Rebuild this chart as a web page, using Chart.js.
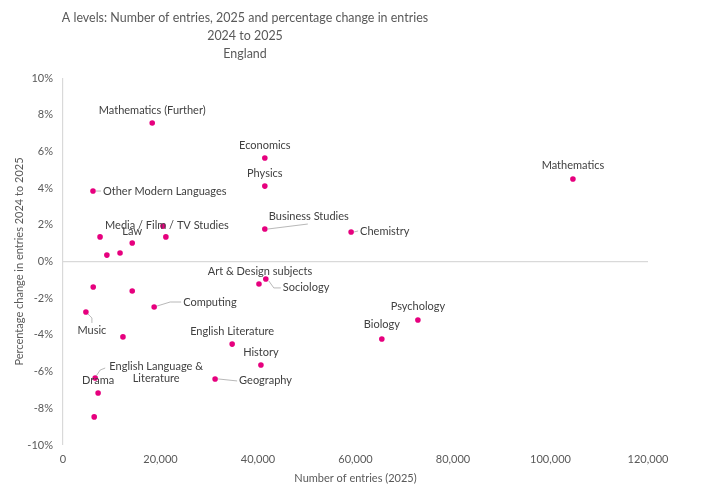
<!DOCTYPE html>
<html>
<head>
<meta charset="utf-8">
<script src="https://cdn.jsdelivr.net/npm/chart.js@4"></script>
<style>
  html, body { margin: 0; padding: 0; background: #fff; }
  #wrap { width: 713px; height: 496px; }
</style>
</head>
<body>
<div id="wrap"><canvas id="myChart" width="713" height="496"></canvas></div>
<script>
// subject names ('' = point without a label in the original)
const subjects = [
  "Mathematics (Further)", "Economics", "Physics", "Other Modern Languages", "Mathematics",
  "Business Studies", "Chemistry", "Media / Film / TV Studies", "", "",
  "Law", "", "", "Sociology", "Art & Design subjects",
  "", "", "Computing", "Music", "",
  "English Literature", "History", "English Language & Literature", "Geography", "Drama",
  "", "Psychology", "Biology"
];
// number of entries, 2025
const entries = [
  18300, 41400, 41400, 6150, 104600,
  41400, 59100, 20500, 21100, 7600,
  14200, 11700, 9000, 41600, 40200,
  6200, 14200, 18700, 4700, 12300,
  34700, 40600, 6600, 31200, 7200,
  6400, 72800, 65400
];
// percentage change in entries 2024 to 2025
const pctChange = [
  7.55, 5.64, 4.11, 3.84, 4.5,
  1.77, 1.61, 1.93, 1.34, 1.34,
  1.01, 0.46, 0.35, -0.95, -1.23,
  -1.39, -1.61, -2.48, -2.75, -4.11,
  -4.5, -5.64, -6.35, -6.4, -7.17,
  -8.47, -3.19, -4.22
];
const xTicks = [0, 20000, 40000, 60000, 80000, 100000, 120000];
const yTicks = [-10, -8, -6, -4, -2, 0, 2, 4, 6, 8, 10];
const titleLines = [
  "A levels: Number of entries, 2025 and percentage change in entries",
  "2024 to 2025",
  "England"
];

// label placement relative to each point: [dx, dy, align, leader]
const labelPlace = {
  "Mathematics (Further)": [0, -13, "center", false],
  "Economics": [0, -13, "center", false],
  "Physics": [0, -13, "center", false],
  "Other Modern Languages": [10, 0, "left", [3, 0, 8, 0]],
  "Mathematics": [0, -13, "center", false],
  "Business Studies": [44, -13, "center", [3, 0, 43, -5]],
  "Chemistry": [9, -1, "left", [3, 0, 7, -1]],
  "Media / Film / TV Studies": [4, -1, "center", false],
  "Law": [0, -12, "center", false],
  "Sociology": [17, 9, "left", [3, 2, 8, 9, 15, 9]],
  "Art & Design subjects": [1, -13, "center", false],
  "Computing": [29, -5, "left", [3, -1, 16, -5, 27, -5]],
  "Music": [6, 18, "center", [2, 2, 6, 6, 6, 11]],
  "English Literature": [0, -13, "center", false],
  "History": [0, -13, "center", false],
  "English Language & Literature": [61, -12, "center", [1, -2, 5, -8, 10, -10]],
  "Geography": [24, 2, "left", [3, 0, 22, 2]],
  "Drama": [0, -13, "center", false],
  "Psychology": [0, -14, "center", false],
  "Biology": [0, -14, "center", false]
};

const titlePlugin = {
  id: "titleLines",
  afterDraw(chart) {
    const ctx = chart.ctx;
    ctx.save();
    ctx.fillStyle = "#595959";
    ctx.font = "14px Lato";
    ctx.textAlign = "center";
    ctx.textBaseline = "middle";
    titleLines.forEach((t, i) => {
      const w = ctx.measureText(t).width * 0.89; // source font is narrower
      ctx.fillText(t, 245, 17 + i * 18, w);
    });
    ctx.restore();
  }
};

const labelPlugin = {
  id: "pointLabels",
  afterDatasetsDraw(chart) {
    const ctx = chart.ctx;
    const xs = chart.scales.x, ys = chart.scales.y;
    ctx.save();
    ctx.font = "11px Lato";
    ctx.textBaseline = "middle";
    subjects.forEach((name, i) => {
      if (!name) return;
      const px = xs.getPixelForValue(entries[i]);
      const py = ys.getPixelForValue(pctChange[i]);
      const [dx, dy, align, leader] = labelPlace[name];
      if (leader) {
        ctx.strokeStyle = "#a6a6a6";
        ctx.lineWidth = 0.8;
        ctx.beginPath();
        ctx.moveTo(px + leader[0], py + leader[1]);
        for (let k = 2; k < leader.length; k += 2) ctx.lineTo(px + leader[k], py + leader[k + 1]);
        ctx.stroke();
      }
      ctx.fillStyle = "#404040";
      ctx.textAlign = align;
      if (name === "English Language & Literature") {
        ctx.fillText("English Language &", px + dx, py + dy);
        ctx.fillText("Literature", px + dx, py + dy + 12);
      } else {
        ctx.fillText(name, px + dx, py + dy);
      }
    });
    ctx.restore();
  }
};

const zeroOnly = (c) => (c.tick && c.tick.value === 0 ? "#d9d9d9" : "rgba(0,0,0,0)");

const ctx = document.getElementById("myChart").getContext("2d");
new Chart(ctx, {
  type: "scatter",
  data: {
    datasets: [
      {
        data: entries.map((e, i) => ({ x: e, y: pctChange[i] })),
        backgroundColor: "#e6007e",
        borderColor: "#e6007e",
        pointRadius: 2.8,
        pointHoverRadius: 2.8,
        borderWidth: 0
      }
    ]
  },
  options: {
    responsive: false,
    animation: false,
    devicePixelRatio: 1,
    layout: { padding: { top: 78, right: 65, left: 0, bottom: 0 } },
    plugins: { legend: { display: false }, tooltip: { enabled: false }, title: { display: false } },
    scales: {
      x: {
        type: "linear",
        min: 0,
        max: 120000,
        afterFit: (s) => { s.height = 51; },
        afterBuildTicks: (s) => { s.ticks = xTicks.map((v) => ({ value: v })); },
        border: { display: false },
        grid: { color: zeroOnly, lineWidth: 1.2, drawTicks: false },
        ticks: {
          color: "#595959",
          font: { family: "Lato", size: 11 },
          padding: 8,
          maxRotation: 0,
          callback: (v) => v.toLocaleString("en-GB")
        },
        title: {
          display: true,
          text: "Number of entries (2025)",
          color: "#595959",
          font: { family: "Lato", size: 11 },
          padding: { top: 0, bottom: 11 }
        }
      },
      y: {
        type: "linear",
        min: -10,
        max: 10,
        afterFit: (s) => { s.width = 63; },
        afterBuildTicks: (s) => { s.ticks = yTicks.map((v) => ({ value: v })); },
        border: { display: false },
        grid: { color: zeroOnly, lineWidth: 1.2, drawTicks: false },
        ticks: {
          color: "#595959",
          font: { family: "Lato", size: 11 },
          padding: 10,
          callback: (v) => v + "%"
        },
        title: {
          display: true,
          text: "Percentage change in entries 2024 to 2025",
          color: "#595959",
          font: { family: "Lato", size: 11 },
          padding: { top: 13, bottom: 0 }
        }
      }
    }
  },
  plugins: [titlePlugin, labelPlugin]
});
</script>
</body>
</html>
